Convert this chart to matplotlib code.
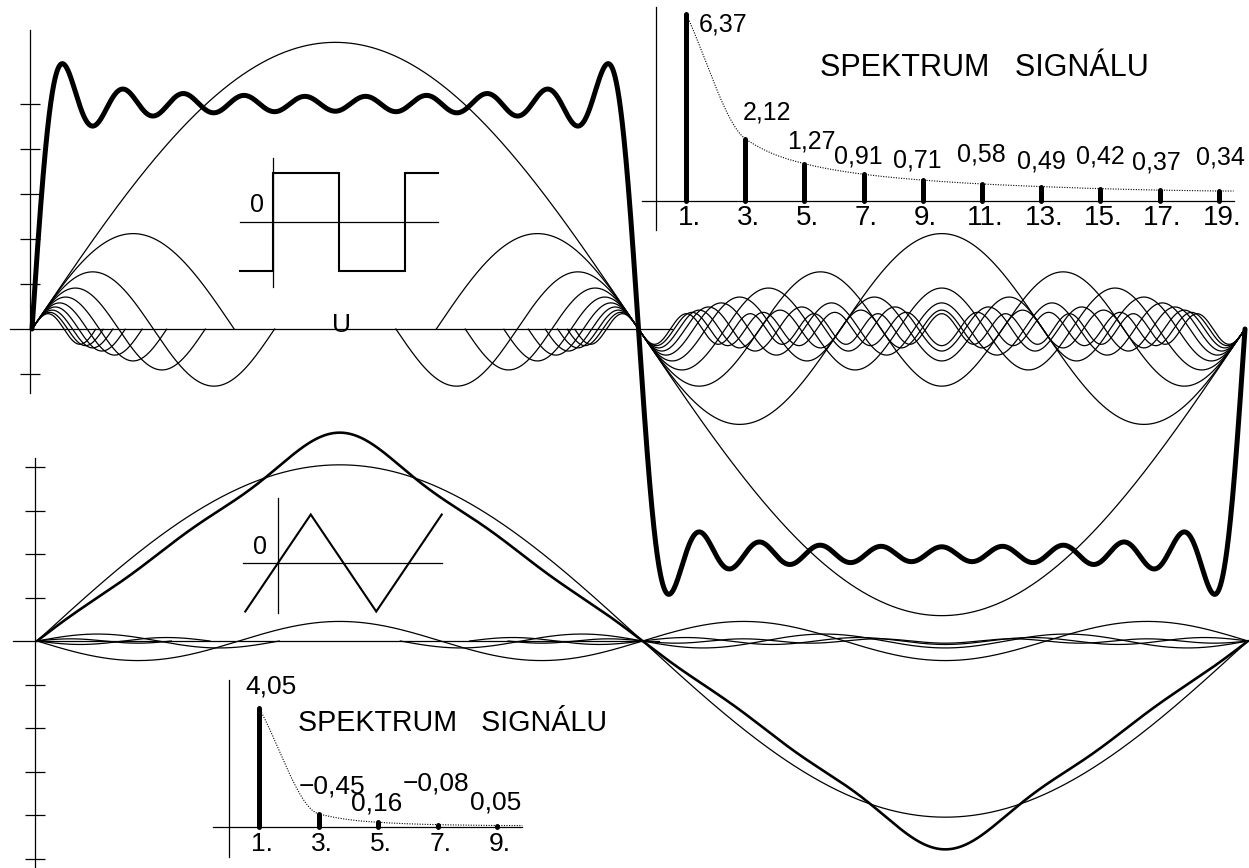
import numpy as np
import matplotlib
matplotlib.use("Agg")
import matplotlib.pyplot as plt
from matplotlib.transforms import ScaledTranslation

plt.rcParams['font.family'] = ['Liberation Sans', 'DejaVu Sans']

W, H, DPI = 1249, 868, 100
PT = 72 / DPI  # points per pixel

# ---------------- data ----------------
# square wave: odd harmonic orders and their amplitudes
sq_orders = [1, 3, 5, 7, 9, 11, 13, 15, 17, 19]
sq_amps = [6.37, 2.12, 1.27, 0.91, 0.71, 0.58, 0.49, 0.42, 0.37, 0.34]
sq_amp_labels = ["6,37", "2,12", "1,27", "0,91", "0,71",
                 "0,58", "0,49", "0,42", "0,37", "0,34"]
sq_yticks = [-1, 1, 2, 3, 4, 5]

# triangle wave: odd harmonic orders and their (signed) amplitudes
tr_orders = [1, 3, 5, 7, 9]
tr_amps = [4.05, -0.45, 0.16, -0.08, 0.05]
tr_amp_labels = ["4,05", "\u22120,45", "0,16", "\u22120,08", "0,05"]
tr_yticks = [-5, -4, -3, -2, -1, 1, 2, 3, 4]

# small sketches of the two waveforms (time in half periods, level +-1)
sq_sketch_t = [-0.5, 0, 0, 1, 1, 2, 2, 2.5]
sq_sketch_v = [-1, -1, 1, 1, -1, -1, 1, 1]
tr_sketch_t = [-0.5, 0.5, 1.5, 2.5]
tr_sketch_v = [-1, 1, -1, 1]

spectrum_title = "SPEKTRUM   SIGNÁLU"

# ---------------- style ----------------
THIN = 0.9
# label offsets from the bar tops, in pixels (right, down)
sq_label_off = [(37, 11), (22, -26), (7, -22), (-5, -18), (-5, -20),
                (-1, -29), (0, -25), (0, -32), (-3, -28), (2, -34)]
tr_label_off = [(12, -21), (14, -27), (-1, -19), (-2, -41), (-1, -23)]

fig = plt.figure(figsize=(W / DPI, H / DPI), dpi=DPI)
fig.patch.set_facecolor('white')


def overlay(x0, sx, y0, sy):
    """Transparent axes over the whole figure: data x -> pixel x0 + x*sx,
    data y -> pixel row y0 - y*sy (rows counted from the top)."""
    ax = fig.add_axes([0, 0, 1, 1])
    ax.set_xlim(-x0 / sx, (W - x0) / sx)
    ax.set_ylim((y0 - H) / sy, y0 / sy)
    ax.patch.set_visible(False)
    for s in ax.spines.values():
        s.set_visible(False)
    ax.set_xticks([])
    ax.set_yticks([])
    return ax


def cross_axes(ax, x_at, xbounds, ybounds, lw=THIN):
    for name in ('left', 'bottom'):
        sp = ax.spines[name]
        sp.set_visible(True)
        sp.set_linewidth(lw)
        sp.set_color('black')
    ax.spines['left'].set_position(('data', x_at))
    ax.spines['left'].set_bounds(*ybounds)
    ax.spines['bottom'].set_position(('data', 0))
    ax.spines['bottom'].set_bounds(*xbounds)


def harmonic_curves(ax, orders, amps, reach, thick_lw):
    th = np.linspace(0, 360, 6001)
    rad = np.deg2rad(th)
    total = np.zeros_like(th)
    for n, a in zip(orders, amps):
        y = a * np.sin(n * rad)
        total += y
        if n == 1:
            keep = np.ones_like(th, dtype=bool)
        else:
            L = reach.get(n, 360.0 / n)
            keep = (th <= L) | (th >= 180 - L)
        ax.plot(th, np.where(keep, y, np.nan), color='black', lw=THIN)
    ax.plot(th, total, color='black', lw=thick_lw,
            solid_joinstyle='round', solid_capstyle='round')


def monotone_cubic(x, y, xs):
    x = np.asarray(x, float)
    y = np.asarray(y, float)
    h = np.diff(x)
    d = np.diff(y) / h
    m = np.zeros_like(y)
    m[0], m[-1] = d[0], d[-1]
    for i in range(1, len(x) - 1):
        if d[i - 1] * d[i] <= 0:
            m[i] = 0.0
        else:
            w1 = 2 * h[i] + h[i - 1]
            w2 = h[i] + 2 * h[i - 1]
            m[i] = (w1 + w2) / (w1 / d[i - 1] + w2 / d[i])
    idx = np.clip(np.searchsorted(x, xs) - 1, 0, len(x) - 2)
    t = (xs - x[idx]) / h[idx]
    h00 = 2 * t**3 - 3 * t**2 + 1
    h10 = t**3 - 2 * t**2 + t
    h01 = -2 * t**3 + 3 * t**2
    h11 = t**3 - t**2
    return (h00 * y[idx] + h10 * h[idx] * m[idx]
            + h01 * y[idx + 1] + h11 * h[idx] * m[idx + 1])


def spectrum(ax, orders, amps, labels, offsets, n_end,
             label_size, tick_size, tick_pad):
    mags = np.abs(amps)
    ax.vlines(orders, 0, mags, colors='black', lw=5 * PT, capstyle='round')
    ns = np.linspace(orders[0], orders[-1], 400)
    env = monotone_cubic(orders, mags, ns)
    ns = np.append(ns, n_end)
    env = np.append(env, mags[-1])
    ax.plot(ns, env, color='black', lw=0.8, linestyle=(0, (1, 1.3)))
    for n, v, lab, (dx, dy) in zip(orders, mags, labels, offsets):
        ax.annotate(lab, (n, v), xytext=(dx * PT, -dy * PT),
                    textcoords='offset points', ha='center', va='center',
                    fontsize=label_size)
    ax.set_xticks(orders, [f"{n}." for n in orders])
    ax.tick_params(axis='x', length=0, pad=tick_pad, labelsize=tick_size)
    for t in ax.get_xticklabels():
        t.set_transform(t.get_transform()
                        + ScaledTranslation(3 / DPI, 0, fig.dpi_scale_trans))


# ---------------- square wave and its harmonics ----------------
top = overlay(32, 1213 / 360, 329, 45)
cross_axes(top, -0.5, (-6.5, 190), (-1.42, 6.64))
top.set_yticks(sq_yticks)
top.tick_params(axis='y', direction='inout', length=20 * PT, width=THIN,
                labelleft=False)
harmonic_curves(top, sq_orders, sq_amps, {3: 60}, 5 * PT)
top.text(92, 0.08, "U", ha='center', va='center', fontsize=19)

# ---------------- triangle wave and its harmonics ----------------
bot = overlay(37, 1211 / 360, 641, 43.5)
cross_axes(bot, -0.5, (-7.1, 185), (-5.3, 4.2))
bot.set_yticks(tr_yticks)
bot.tick_params(axis='y', direction='inout', length=20 * PT, width=THIN,
                labelleft=False)
harmonic_curves(bot, tr_orders, tr_amps, {3: 180}, 2.6 * PT)

# ---------------- spectra ----------------
sp_top = overlay(686 - 29.6, 29.6, 201, 29.4)
cross_axes(sp_top, 0, (-0.49, 19.5), (-0.99, 6.6))
spectrum(sp_top, sq_orders, sq_amps, sq_amp_labels, sq_label_off, 19.5,
         18, 20, 2.8)
sp_top.text(5.53, 4.52, spectrum_title, ha='left', va='center', fontsize=22)

sp_bot = overlay(259 - 29.75, 29.75, 827, 29.4)
cross_axes(sp_bot, 0, (-0.54, 9.85), (-1.02, 5.0))
spectrum(sp_bot, tr_orders, tr_amps, tr_amp_labels, tr_label_off, 9.85,
         19, 19, 3.5)
sp_bot.text(2.31, 3.54, spectrum_title, ha='left', va='center', fontsize=20.6)

# ---------------- waveform sketches ----------------
sk_sq = overlay(273, 66, 222, 49)
cross_axes(sk_sq, 0, (-0.5, 2.5), (-1.33, 1.31))
sk_sq.plot(sq_sketch_t, sq_sketch_v, color='black', lw=1.5,
           solid_joinstyle='miter')
sk_sq.text(-0.24, 0.35, "0", ha='center', va='center', fontsize=18)

sk_tr = overlay(278, 65.5, 563, 48.5)
cross_axes(sk_tr, 0, (-0.53, 2.5), (-1.03, 1.34))
sk_tr.plot(tr_sketch_t, tr_sketch_v, color='black', lw=1.5,
           solid_joinstyle='miter')
sk_tr.text(-0.27, 0.33, "0", ha='center', va='center', fontsize=18)

fig.savefig("out.png", dpi=DPI, facecolor='white')
